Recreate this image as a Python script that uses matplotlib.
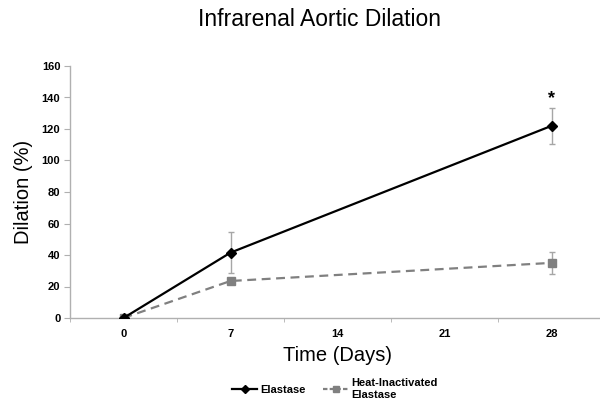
import matplotlib
matplotlib.use("Agg")
import matplotlib.pyplot as plt
from matplotlib.lines import Line2D

days = ["0", "7", "14", "21", "28"]
el_x = [0, 7, 28]
el_y = [0, 41.5, 122]
el_err = [0, 13, 11.5]
hi_x = [0, 7, 28]
hi_y = [0, 23.5, 35]
hi_err = [0, 2, 7]
yticks = [0, 20, 40, 60, 80, 100, 120, 140, 160]

plt.rcParams['font.family'] = ['Liberation Sans', 'DejaVu Sans']

W, H = 600, 403
fig = plt.figure(figsize=(6, 4.03), dpi=100)
ax = fig.add_axes([70 / W, 1 - 318 / H, 535 / W, 252 / H])

pos = {int(d): i for i, d in enumerate(days)}
ex = [pos[d] for d in el_x]
hx = [pos[d] for d in hi_x]

errc = '#a6a6a6'
ax.errorbar(hx, hi_y, yerr=hi_err, fmt='none', ecolor=errc, elinewidth=1, capsize=2, capthick=1, zorder=2)
ax.errorbar(ex, el_y, yerr=el_err, fmt='none', ecolor=errc, elinewidth=1, capsize=2, capthick=1, zorder=2)
ax.plot(hx, hi_y, color='#808080', lw=1.6, ls=(0, (4, 2.5)), marker='s', ms=6, zorder=3)
ax.plot(ex, el_y, color='black', lw=1.6, marker='D', ms=5.5, zorder=4)
ax.text(4, 134, '*', ha='center', va='bottom', fontsize=13, fontweight='bold')

ax.set_xlim(-0.5, 4.5)
ax.set_ylim(0, 160)
ax.set_yticks(yticks)
ax.set_yticklabels([str(v) for v in yticks], fontsize=8, fontweight='bold')
ax.set_xticks(range(len(days)))
ax.set_xticklabels(days, fontsize=8, fontweight='bold')
ax.set_xticks([i - 0.5 for i in range(len(days) + 1)], minor=True)
ax.tick_params(axis='x', which='major', length=0, pad=8)
ax.tick_params(axis='x', which='minor', length=3, color='#b0b0b0', direction='out')
ax.tick_params(axis='y', length=4, color='#b0b0b0', direction='out', pad=3)
for s in ['top', 'right']:
    ax.spines[s].set_visible(False)
for s in ['left', 'bottom']:
    ax.spines[s].set_color('#b0b0b0')
    ax.spines[s].set_linewidth(1)

ax.set_xlabel('Time (Days)', fontsize=14.5, labelpad=5)
ax.set_ylabel('Dilation (%)', fontsize=14.5, labelpad=6)
fig.text(320 / W, 1 - 20 / H, 'Infrarenal Aortic Dilation', ha='center', va='center', fontsize=16.5)

handles = [Line2D([], [], color='black', lw=1.6, marker='D', ms=4),
           Line2D([], [], color='#808080', lw=1.6, ls=(0, (2, 1)), marker='s', ms=4.5)]
fig.legend(handles, ['Elastase', 'Heat-Inactivated\nElastase'], loc='center',
           bbox_to_anchor=(335 / W, 1 - 389 / H), ncol=2, frameon=False,
           prop={'weight': 'bold', 'size': 8}, handlelength=2.2, handletextpad=0.3,
           columnspacing=1.6)

fig.savefig('out.png', dpi=100)
